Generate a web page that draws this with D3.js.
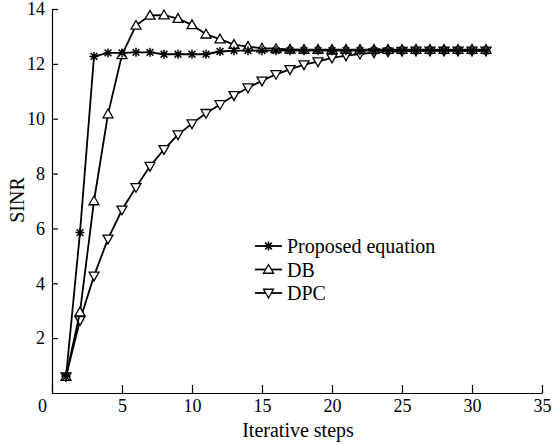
<!DOCTYPE html>
<html>
<head>
<meta charset="utf-8">
<script src="https://cdn.jsdelivr.net/npm/d3@7"></script>
<style>
  html, body { margin: 0; padding: 0; background: #fff; }
  svg { display: block; }
  svg text { font-family: "Liberation Serif", "DejaVu Serif", serif !important; fill: #000; }
</style>
</head>
<body>
<svg id="chart" width="554" height="445"></svg>
<script>
const steps = d3.range(1, 32);
const proposed = [0.6, 5.85, 12.27, 12.4, 12.4, 12.42, 12.42, 12.35, 12.35, 12.35, 12.35, 12.45, 12.48, 12.48, 12.48, 12.48, 12.48, 12.48, 12.48, 12.48, 12.48, 12.48, 12.48, 12.48, 12.48, 12.48, 12.48, 12.48, 12.48, 12.48, 12.47];
const db = [0.6, 2.95, 7.0, 10.17, 12.33, 13.4, 13.77, 13.78, 13.65, 13.42, 13.08, 12.9, 12.7, 12.63, 12.57, 12.55, 12.53, 12.52, 12.52, 12.52, 12.52, 12.52, 12.52, 12.52, 12.52, 12.52, 12.52, 12.52, 12.52, 12.52, 12.52];
const dpc = [0.6, 2.65, 4.27, 5.62, 6.68, 7.5, 8.27, 8.88, 9.42, 9.82, 10.2, 10.52, 10.85, 11.13, 11.38, 11.62, 11.8, 11.97, 12.08, 12.22, 12.3, 12.36, 12.41, 12.44, 12.46, 12.47, 12.47, 12.47, 12.47, 12.47, 12.47];
const seriesNames = ["Proposed equation", "DB", "DPC"];
const xTicks = [0, 5, 10, 15, 20, 25, 30, 35];
const yTicks = [2, 4, 6, 8, 10, 12, 14];
const xLabel = "Iterative steps";
const yLabel = "SINR";

const series = [
  { name: seriesNames[0], values: proposed, marker: "star" },
  { name: seriesNames[1], values: db, marker: "up" },
  { name: seriesNames[2], values: dpc, marker: "down" }
];

const FONT = '"Liberation Serif", "DejaVu Serif", serif';
const svg = d3.select("#chart");
const x = d3.scaleLinear().domain([0, 35]).range([52, 542]);
const y = d3.scaleLinear().domain([0, 14]).range([393, 9]);

// axes
const xAxis = svg.append("g").attr("transform", `translate(0,${y(0)})`)
  .call(d3.axisBottom(x).tickValues(xTicks).tickSizeInner(-8).tickSizeOuter(0).tickPadding(6));
const yAxis = svg.append("g").attr("transform", `translate(${x(0)},0)`)
  .call(d3.axisLeft(y).tickValues(yTicks).tickSizeInner(-6).tickSizeOuter(0).tickPadding(7));
[xAxis, yAxis].forEach(g => {
  g.attr("font-family", FONT).attr("font-size", 18);
  g.select(".domain").attr("stroke", "#000").attr("stroke-width", 1.2);
  g.selectAll(".tick line").attr("stroke", "#000").attr("stroke-width", 1.2);
  g.selectAll(".tick text").attr("font-family", FONT).attr("font-size", 18).attr("fill", "#000");
});
xAxis.selectAll(".tick text").filter(d => d === 0).attr("dx", -10);

svg.append("text").attr("x", (x(0) + x(35)) / 2 + 1).attr("y", 437)
  .attr("text-anchor", "middle").attr("font-family", FONT).attr("font-size", 20).text(xLabel);
svg.append("text").attr("transform", `translate(24,${200}) rotate(-90)`)
  .attr("text-anchor", "middle").attr("font-family", FONT).attr("font-size", 20).text(yLabel);

function drawMarker(g, type, cx, cy) {
  if (type === "star") {
    const r = 4.5, d = r * 0.75;
    g.append("path")
      .attr("d", `M${cx},${cy - r}L${cx},${cy + r}M${cx - r},${cy}L${cx + r},${cy}M${cx - d},${cy - d}L${cx + d},${cy + d}M${cx - d},${cy + d}L${cx + d},${cy - d}`)
      .attr("stroke", "#000").attr("stroke-width", 1.5).attr("fill", "none");
  } else {
    const s = 5;
    const pts = type === "up"
      ? [[cx, cy - s], [cx + s, cy + s * 0.75], [cx - s, cy + s * 0.75]]
      : [[cx, cy + s], [cx + s, cy - s * 0.75], [cx - s, cy - s * 0.75]];
    g.append("path").attr("d", "M" + pts.map(p => p.join(",")).join("L") + "Z")
      .attr("fill", "#fff").attr("stroke", "#000").attr("stroke-width", 1.3);
  }
}

const line = d3.line().x((d, i) => x(steps[i])).y(d => y(d));

series.slice().reverse().forEach(s => {
  svg.append("path").datum(s.values).attr("d", line)
    .attr("fill", "none").attr("stroke", "#000").attr("stroke-width", 1.8);
  const g = svg.append("g");
  s.values.forEach((v, i) => drawMarker(g, s.marker, x(steps[i]), y(v)));
});

// legend
const legendY = [246, 269.5, 293];
series.forEach((s, i) => {
  const g = svg.append("g");
  g.append("line").attr("x1", 255).attr("x2", 282).attr("y1", legendY[i]).attr("y2", legendY[i])
    .attr("stroke", "#000").attr("stroke-width", 1.8);
  drawMarker(g, s.marker, 268.5, legendY[i]);
  g.append("text").attr("x", 287).attr("y", legendY[i] + 7).attr("font-family", FONT).attr("font-size", 20).text(s.name);
});
</script>
</body>
</html>
